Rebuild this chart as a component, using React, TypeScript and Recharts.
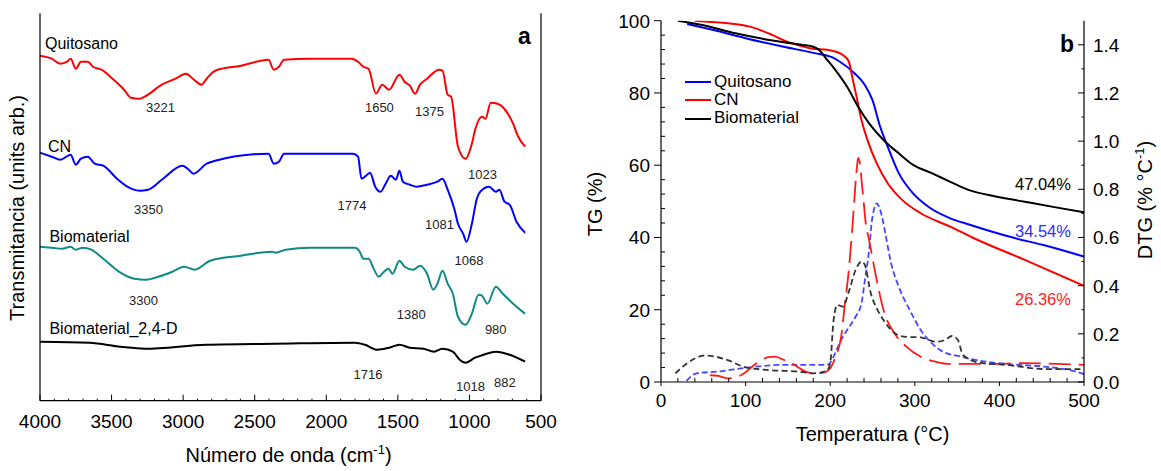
import React from 'react';
import { LineChart, Line, XAxis, YAxis, ReferenceDot, Legend } from 'recharts';

const FONT = '"Liberation Sans", Arial, Helvetica, sans-serif';

// ---------------- Panel a : FTIR ----------------
const ftirMajorTicks = [4000, 3500, 3000, 2500, 2000, 1500, 1000, 500];
const ftirMinorStep = 100;
const ftirDomain = [500, 4000];
const ftirYDomain = [0, 387.4];

// [wavenumber (cm-1), transmittance (arb. units, offset)]
const quitosanoFTIR = [
  [4000, 345], [3918, 342], [3858, 337], [3811, 339], [3786, 342], [3750, 332], [3714, 339], [3666, 339],
  [3630, 334], [3570, 331], [3486, 321], [3413, 311], [3365, 303], [3305, 302], [3269, 304], [3149, 316],
  [3053, 322], [2980, 327], [2932, 322], [2872, 316], [2836, 322], [2776, 330], [2596, 335], [2403, 341],
  [2367, 331], [2331, 334], [2295, 341], [2115, 342], [1826, 342], [1778, 339], [1742, 334], [1705, 332],
  [1653, 307], [1609, 316], [1561, 311], [1489, 326], [1453, 319], [1416, 315], [1380, 307], [1345, 316],
  [1296, 322], [1212, 331], [1188, 330], [1152, 306], [1128, 304], [1080, 254], [1027, 242], [983, 257],
  [960, 271], [912, 284], [888, 282], [851, 298], [803, 297], [695, 277], [659, 264], [611, 254],
];
const cnFTIR = [
  [4000, 248], [3918, 244], [3858, 241], [3786, 246], [3750, 236], [3714, 242], [3666, 244], [3618, 237],
  [3558, 235], [3462, 222], [3390, 214], [3305, 210], [3245, 211], [3149, 221], [3005, 235], [2968, 232],
  [2928, 227], [2836, 237], [2776, 240], [2403, 247], [2367, 237], [2331, 239], [2295, 247], [1813, 247],
  [1778, 244], [1754, 222], [1730, 224], [1694, 228], [1658, 214], [1621, 209], [1585, 217], [1550, 225],
  [1514, 221], [1489, 230], [1465, 219], [1416, 216], [1368, 214], [1296, 216], [1224, 219], [1188, 222],
  [1152, 211], [1104, 191], [1080, 177], [1044, 167], [1020, 159], [983, 177], [948, 202], [924, 209],
  [863, 214], [815, 209], [791, 211], [755, 199], [719, 196], [671, 179], [611, 168],
];
const biomaterialFTIR = [
  [4000, 154], [3918, 153], [3846, 152], [3786, 154], [3750, 151], [3702, 153], [3641, 151], [3558, 142],
  [3438, 128], [3341, 122], [3257, 121], [3173, 124], [3076, 129], [2993, 134], [2920, 131], [2811, 140],
  [2596, 145], [2379, 149], [2355, 148], [2283, 151], [2115, 153], [1801, 153], [1766, 149], [1742, 142],
  [1705, 142], [1669, 132], [1633, 124], [1597, 129], [1566, 132], [1537, 127], [1489, 140], [1453, 134],
  [1393, 131], [1345, 135], [1296, 127], [1253, 111], [1224, 117], [1188, 130], [1152, 117], [1116, 107],
  [1080, 84], [1027, 76], [983, 87], [936, 106], [912, 105], [875, 97], [815, 114], [767, 107], [671, 94],
  [611, 87],
];
const biomaterial24dFTIR = [
  [4000, 59], [3654, 58], [3438, 54], [3269, 52], [2836, 56], [2355, 57], [1801, 58], [1730, 56],
  [1645, 51], [1561, 53], [1489, 56], [1416, 53], [1321, 52], [1248, 49], [1188, 52], [1116, 49],
  [1068, 41], [1027, 38], [960, 43], [900, 46], [815, 49], [719, 46], [611, 39],
];

const ftirSeries = [
  { name: 'Quitosano', data: quitosanoFTIR, color: '#ff0000' },
  { name: 'CN', data: cnFTIR, color: '#0000ff' },
  { name: 'Biomaterial', data: biomaterialFTIR, color: '#0f8a84' },
  { name: 'Biomaterial_2,4-D', data: biomaterial24dFTIR, color: '#000000' },
];

const ftirNameLabels = [
  { text: 'Quitosano', w: 3965, v: 352 },
  { text: 'CN', w: 3944, v: 249 },
  { text: 'Biomaterial', w: 3934, v: 159 },
  { text: 'Biomaterial_2,4-D', w: 3934, v: 67 },
];
const ftirPeakLabels = [
  { text: '3221', w: 3259, v: 289 },
  { text: '1650', w: 1730, v: 289 },
  { text: '1375', w: 1380, v: 285 },
  { text: '1023', w: 1010, v: 222 },
  { text: '3350', w: 3343, v: 187 },
  { text: '1774', w: 1922, v: 191 },
  { text: '1081', w: 1310, v: 172 },
  { text: '1068', w: 1104, v: 136 },
  { text: '3300', w: 3378, v: 96 },
  { text: '1380', w: 1508, v: 82 },
  { text: '980', w: 892, v: 67 },
  { text: '1716', w: 1810, v: 22 },
  { text: '1018', w: 1094, v: 10 },
  { text: '882', w: 828, v: 14 },
];
const panelALetter = { text: 'a', w: 661, v: 356.7 };

// ---------------- Panel b : TG / DTG ----------------
const tempMajorTicks = [0, 100, 200, 300, 400, 500];
const tgMajorTicks = [0, 20, 40, 60, 80, 100];
const dtgMajorTicks = [0, 0.2, 0.4, 0.6, 0.8, 1.0, 1.2, 1.4];

// [temperature (°C), TG (%)]
const quitosanoTG = [
  [31, 99.1], [62, 97.4], [101, 95.1], [145, 92.8], [180, 91.1], [202, 89.9], [211, 88.7], [228, 85.6],
  [241, 82.2], [250, 78], [259, 70.7], [268, 65.1], [281, 57.8], [298, 52.2], [316, 48.5], [342, 45.3],
  [364, 43.6], [417, 39.9], [452, 37.9], [500, 34.7],
];
const cnTG = [
  [40, 100], [55, 99.7], [79, 99.3], [106, 98.3], [132, 96], [149, 94.2], [176, 92.4], [202, 91.7],
  [215, 90.5], [222, 88.7], [226, 84.5], [232, 78], [237, 72.5], [244, 67], [255, 60.5], [268, 55],
  [285, 50.4], [307, 46.7], [342, 43], [368, 40], [430, 33.8], [500, 26.6],
];
const biomaterialTG = [
  [20, 100], [49, 98.8], [88, 96.5], [132, 94.5], [167, 93.3], [180, 92.8], [187, 91.9], [195, 89.6],
  [206, 86.4], [220, 81.7], [233, 76.2], [246, 71.6], [263, 67], [281, 63.3], [298, 60.1], [320, 57.8],
  [342, 55.4], [364, 53.1], [386, 51.8], [430, 49.9], [465, 48.4], [500, 47],
];

// [temperature (°C), DTG (% °C-1)]
const quitosanoDTG = [
  [30, 0.005], [42, 0.036], [66, 0.043], [105, 0.061], [141, 0.071], [196, 0.071], [201, 0.085],
  [207, 0.13], [211, 0.161], [220, 0.216], [230, 0.271], [237, 0.327], [241, 0.423], [246, 0.548],
  [249, 0.66], [252, 0.72], [255, 0.742], [258, 0.725], [261, 0.69], [265, 0.62], [272, 0.493],
  [281, 0.396], [294, 0.299], [307, 0.216], [320, 0.161], [333, 0.126], [351, 0.108], [373, 0.091],
  [408, 0.075], [452, 0.064], [491, 0.043], [500, 0.033],
];
const cnDTG = [
  [58, 0.028], [68, 0.025], [79, 0.015], [88, 0.02], [95, 0.029], [113, 0.078], [127, 0.103],
  [135, 0.105], [143, 0.095], [158, 0.071], [164, 0.057], [171, 0.043], [180, 0.036], [192, 0.039],
  [200, 0.057], [204, 0.084], [208, 0.119], [213, 0.188], [217, 0.313], [222, 0.465], [226, 0.631],
  [229, 0.78], [231.5, 0.89], [233, 0.93], [235, 0.91], [237, 0.84], [239.5, 0.75], [242, 0.66],
  [246, 0.589], [255, 0.423], [263, 0.299], [276, 0.202], [290, 0.147], [307, 0.105], [325, 0.084],
  [342, 0.075], [386, 0.075], [430, 0.078], [500, 0.071],
];
const biomaterialDTG = [
  [17, 0.036], [31, 0.078], [52, 0.11], [79, 0.091], [97, 0.064], [125, 0.05], [164, 0.043],
  [180, 0.036], [196, 0.047], [200, 0.078], [204, 0.257], [208.5, 0.32], [215, 0.313], [222, 0.375],
  [230, 0.465], [237, 0.5], [241, 0.486], [248, 0.368], [255, 0.306], [263, 0.257], [274, 0.209],
  [287, 0.188], [307, 0.185], [325, 0.167], [335, 0.174], [344, 0.191], [351, 0.174], [357, 0.112],
  [377, 0.08], [408, 0.071], [452, 0.054], [500, 0.053],
];

const legendItems = [
  { name: 'Quitosano', color: '#0000ff' },
  { name: 'CN', color: '#ff0000' },
  { name: 'Biomaterial', color: '#000000' },
];

const tgSeries = [
  { name: 'Quitosano', data: quitosanoTG, color: '#0000ff' },
  { name: 'CN', data: cnTG, color: '#ff0000' },
  { name: 'Biomaterial', data: biomaterialTG, color: '#000000' },
];
const dtgSeries = [
  { name: 'Quitosano DTG', data: quitosanoDTG, color: '#4848ff', dash: '6 3' },
  { name: 'CN DTG', data: cnDTG, color: '#ff1a1a', dash: '22 8' },
  { name: 'Biomaterial DTG', data: biomaterialDTG, color: '#333333', dash: '6 3.5' },
];

const residueLabels = [
  { text: '47.04%', t: 484.6, tg: 53.1, color: '#000000' },
  { text: '34.54%', t: 484.6, tg: 40.1, color: '#2e2eff' },
  { text: '26.36%', t: 484.6, tg: 21.45, color: '#ff1a1a' },
];
const panelBLetter = { text: 'b', t: 471.6, tg: 91.4 };

// ---------------- helpers ----------------
const pts = (arr: number[][]) => arr.map(([x, y]) => ({ x, y }));

const range = (from: number, to: number, step: number) => {
  const out: number[] = [];
  const n = Math.round((to - from) / step);
  for (let i = 0; i <= n; i++) out.push(Math.round((from + i * step) * 1000) / 1000);
  return out;
};

const ftirTicks = range(500, 4000, ftirMinorStep).reverse();
const tempTicks = range(0, 500, 20);
const tgTicks = range(0, 100, 4);
const dtgTicks = range(0, 1.4, 0.1);

const isIn = (list: number[], v: number) => list.some((m) => Math.abs(m - v) < 1e-6);

const FtirXTick = (props: any) => {
  const { x, y, payload } = props;
  const v = payload.value;
  const major = isIn(ftirMajorTicks, v);
  return (
    <g>
      <line x1={x} x2={x} y1={y} y2={y - (major ? 6 : 2)} stroke="#000" strokeWidth={1} />
      {major && (
        <text x={x} y={y + 27} textAnchor="middle" fontSize={19} fontFamily={FONT} fill="#000">
          {v}
        </text>
      )}
    </g>
  );
};

const TempXTick = (props: any) => {
  const { x, y, payload } = props;
  const v = payload.value;
  const major = isIn(tempMajorTicks, v);
  return (
    <g>
      <line x1={x} x2={x} y1={y} y2={major ? y + 4 : y - 4} stroke="#000" strokeWidth={1} />
      {major && (
        <text x={x} y={y + 25} textAnchor="middle" fontSize={19} fontFamily={FONT} fill="#000">
          {v}
        </text>
      )}
    </g>
  );
};

const TgYTick = (props: any) => {
  const { x, y, payload } = props;
  const v = payload.value;
  const major = isIn(tgMajorTicks, v);
  return (
    <g>
      <line x1={major ? x - 7 : x} x2={major ? x : x + 4} y1={y} y2={y} stroke="#000" strokeWidth={1} />
      {major && (
        <text x={x - 11} y={y + 7} textAnchor="end" fontSize={19} fontFamily={FONT} fill="#000">
          {v}
        </text>
      )}
    </g>
  );
};

const DtgYTick = (props: any) => {
  const { x, y, payload } = props;
  const v = payload.value;
  const major = isIn(dtgMajorTicks, v);
  return (
    <g>
      <line x1={x - (major ? 6 : 2.5)} x2={x} y1={y} y2={y} stroke="#000" strokeWidth={1} />
      {major && (
        <text x={x + 9} y={y + 7} textAnchor="start" fontSize={19} fontFamily={FONT} fill="#000">
          {v.toFixed(1)}
        </text>
      )}
    </g>
  );
};

const textAt =
  (text: string, opts: { size: number; anchor?: string; weight?: string | number; color?: string }) =>
  (props: any) => {
    const vb = props.viewBox || {};
    const x = vb.cx !== undefined ? vb.cx : vb.x + (vb.width || 0) / 2;
    const y = vb.cy !== undefined ? vb.cy : vb.y + (vb.height || 0) / 2;
    return (
      <text
        x={x}
        y={y}
        fontSize={opts.size}
        fontFamily={FONT}
        fontWeight={opts.weight || 'normal'}
        textAnchor={opts.anchor || 'start'}
        fill={opts.color || '#000'}
      >
        {text}
      </text>
    );
  };

const FtirXTitle = (props: any) => {
  const vb = props.viewBox;
  return (
    <text x={vb.x + vb.width / 2 - 2} y={vb.y + 61} textAnchor="middle" fontSize={20} fontFamily={FONT} fill="#000">
      Número de onda (cm<tspan dy={-8} fontSize={13}>-1</tspan>
      <tspan dy={8}>)</tspan>
    </text>
  );
};
const FtirYTitle = (props: any) => {
  const vb = props.viewBox;
  const x = vb.x + 24.3;
  const y = vb.y + vb.height / 2 + 1;
  return (
    <text x={x} y={y} transform={`rotate(-90, ${x}, ${y})`} textAnchor="middle" fontSize={20} fontFamily={FONT} fill="#000">
      Transmitancia (units arb.)
    </text>
  );
};
const TempXTitle = (props: any) => {
  const vb = props.viewBox;
  return (
    <text x={vb.x + vb.width / 2} y={vb.y + 59} textAnchor="middle" fontSize={20} fontFamily={FONT} fill="#000">
      Temperatura (°C)
    </text>
  );
};
const TgYTitle = (props: any) => {
  const vb = props.viewBox;
  const x = vb.x + vb.width - 59.5;
  const y = 204;
  return (
    <text x={x} y={y} transform={`rotate(-90, ${x}, ${y})`} textAnchor="middle" fontSize={20} fontFamily={FONT} fill="#000">
      TG (%)
    </text>
  );
};
const DtgYTitle = (props: any) => {
  const vb = props.viewBox;
  const x = vb.x + 67.7;
  const y = 200;
  return (
    <text x={x} y={y} transform={`rotate(-90, ${x}, ${y})`} textAnchor="middle" fontSize={20} fontFamily={FONT} fill="#000">
      DTG (% °C<tspan dy={-8} fontSize={13}>-1</tspan>
      <tspan dy={8}>)</tspan>
    </text>
  );
};

const LegendBox = () => (
  <div style={{ fontFamily: FONT, fontSize: 17, lineHeight: '18.4px', color: '#000' }}>
    {legendItems.map((it) => (
      <div key={it.name} style={{ display: 'flex', alignItems: 'center', whiteSpace: 'nowrap' }}>
        <svg width={26} height={4} style={{ marginRight: 3, display: 'block' }}>
          <line x1={0} x2={26} y1={2} y2={2} stroke={it.color} strokeWidth={2} />
        </svg>
        <span>{it.name}</span>
      </div>
    ))}
  </div>
);

export default function App() {
  return (
    <div style={{ position: 'absolute', left: 0, top: 0, width: 1161, height: 471, background: '#fff', fontFamily: FONT }}>
      {/* Panel a */}
      <div style={{ position: 'absolute', left: 0, top: 0 }}>
        <LineChart width={560} height={471} margin={{ top: 13.3, right: 0, bottom: 40.3, left: 0 }}>
          <XAxis
            xAxisId="b"
            dataKey="x"
            type="number"
            domain={ftirDomain}
            reversed
            allowDataOverflow
            ticks={ftirTicks}
            interval={0}
            tickSize={0}
            tickMargin={0}
            tickLine={false}
            tick={<FtirXTick />}
            axisLine={{ stroke: '#000', strokeWidth: 1.2 }}
            height={30}
            label={<FtirXTitle />}
          />
          <XAxis
            xAxisId="t"
            dataKey="x"
            type="number"
            orientation="top"
            domain={ftirDomain}
            reversed
            allowDataOverflow
            height={0}
            tick={false}
            tickLine={false}
            axisLine={{ stroke: '#000', strokeWidth: 1.2 }}
          />
          <YAxis
            yAxisId="l"
            type="number"
            domain={ftirYDomain}
            allowDataOverflow
            width={40}
            tick={false}
            tickLine={false}
            axisLine={{ stroke: '#000', strokeWidth: 1.2 }}
            label={<FtirYTitle />}
          />
          <YAxis
            yAxisId="r"
            type="number"
            orientation="right"
            domain={ftirYDomain}
            allowDataOverflow
            width={19}
            tick={false}
            tickLine={false}
            axisLine={{ stroke: '#000', strokeWidth: 1.2 }}
          />
          {ftirSeries.map((s) => (
            <Line
              key={s.name}
              name={s.name}
              data={pts(s.data)}
              dataKey="y"
              xAxisId="b"
              yAxisId="l"
              type="monotone"
              stroke={s.color}
              strokeWidth={2}
              dot={false}
              activeDot={false}
              isAnimationActive={false}
            />
          ))}
          {ftirNameLabels.map((l) => (
            <ReferenceDot key={l.text} x={l.w} y={l.v} xAxisId="b" yAxisId="l" r={0} fill="none" stroke="none"
              label={textAt(l.text, { size: 16 })} />
          ))}
          {ftirPeakLabels.map((l) => (
            <ReferenceDot key={l.text + l.w} x={l.w} y={l.v} xAxisId="b" yAxisId="l" r={0} fill="none" stroke="none"
              label={textAt(l.text, { size: 13, color: '#222' })} />
          ))}
          <ReferenceDot x={panelALetter.w} y={panelALetter.v} xAxisId="b" yAxisId="l" r={0} fill="none" stroke="none"
            label={textAt(panelALetter.text, { size: 23, weight: 'bold' })} />
        </LineChart>
      </div>

      {/* Panel b */}
      <div style={{ position: 'absolute', left: 580, top: 0 }}>
        <LineChart width={581} height={471} margin={{ top: 20.7, right: 17, bottom: 59, left: 11 }}>
          <XAxis
            xAxisId="b"
            dataKey="x"
            type="number"
            domain={[0, 500]}
            allowDataOverflow
            ticks={tempTicks}
            interval={0}
            tickSize={0}
            tickMargin={0}
            tickLine={false}
            tick={<TempXTick />}
            axisLine={{ stroke: '#000', strokeWidth: 1.2 }}
            height={30}
            label={<TempXTitle />}
          />
          <XAxis
            xAxisId="t"
            dataKey="x"
            type="number"
            orientation="top"
            domain={[0, 500]}
            allowDataOverflow
            height={0}
            tick={false}
            tickLine={false}
            axisLine={{ stroke: '#000', strokeWidth: 1.2 }}
          />
          <YAxis
            yAxisId="tg"
            type="number"
            domain={[0, 100]}
            allowDataOverflow
            ticks={tgTicks}
            interval={0}
            tickSize={0}
            tickMargin={0}
            tickLine={false}
            tick={<TgYTick />}
            width={70}
            axisLine={{ stroke: '#000', strokeWidth: 1.2 }}
            label={<TgYTitle />}
          />
          <YAxis
            yAxisId="dtg"
            type="number"
            orientation="right"
            domain={[0, 1.5]}
            allowDataOverflow
            ticks={dtgTicks}
            interval={0}
            tickSize={0}
            tickMargin={0}
            tickLine={false}
            tick={<DtgYTick />}
            width={60}
            axisLine={{ stroke: '#000', strokeWidth: 1.2 }}
            label={<DtgYTitle />}
          />
          {dtgSeries.map((s) => (
            <Line
              key={s.name}
              name={s.name}
              data={pts(s.data)}
              dataKey="y"
              xAxisId="b"
              yAxisId="dtg"
              type="monotone"
              stroke={s.color}
              strokeWidth={1.8}
              strokeDasharray={s.dash}
              dot={false}
              activeDot={false}
              isAnimationActive={false}
            />
          ))}
          {tgSeries.map((s) => (
            <Line
              key={s.name}
              name={s.name}
              data={pts(s.data)}
              dataKey="y"
              xAxisId="b"
              yAxisId="tg"
              type="monotone"
              stroke={s.color}
              strokeWidth={2}
              dot={false}
              activeDot={false}
              isAnimationActive={false}
            />
          ))}
          {residueLabels.map((l) => (
            <ReferenceDot key={l.text} x={l.t} y={l.tg} xAxisId="b" yAxisId="tg" r={0} fill="none" stroke="none"
              label={textAt(l.text, { size: 16.5, anchor: 'end', color: l.color })} />
          ))}
          <ReferenceDot x={panelBLetter.t} y={panelBLetter.tg} xAxisId="b" yAxisId="tg" r={0} fill="none" stroke="none"
            label={textAt(panelBLetter.text, { size: 23, weight: 'bold' })} />
          <Legend
            layout="vertical"
            verticalAlign="middle"
            align="center"
            wrapperStyle={{ left: 105, top: 72.5, width: 'auto', height: 'auto' }}
            content={<LegendBox />}
          />
        </LineChart>
      </div>
    </div>
  );
}
